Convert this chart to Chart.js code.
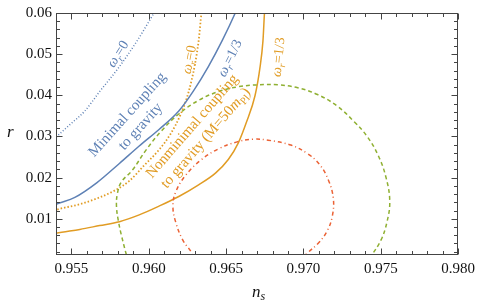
<!DOCTYPE html>
<html>
<head>
<meta charset="utf-8">
<script src="https://cdn.jsdelivr.net/npm/chart.js@4.4.1/dist/chart.umd.min.js"></script>
<style>
  html, body { margin: 0; padding: 0; background: #fff; }
  #wrap { width: 480px; height: 304px; }
</style>
</head>
<body>
<div id="wrap"><canvas id="chart" width="480" height="304"></canvas></div>
<script>
// tick labels
const xTicks = [0.955, 0.960, 0.965, 0.970, 0.975, 0.980];
const yTicks = [0.01, 0.02, 0.03, 0.04, 0.05, 0.06];

// minimal coupling, w_r = 0 (dotted blue)
const minW0_ns = [0.95387, 0.95400, 0.95490, 0.95586, 0.95682, 0.95797, 0.95919, 0.96034, 0.96053];
const minW0_r  = [0.02934, 0.02981, 0.03288, 0.03618, 0.04090, 0.04632, 0.05292, 0.06000, 0.06118];

// minimal coupling, w_r = 1/3 (solid blue)
const minW13_ns = [0.95387, 0.95400, 0.95522, 0.95663, 0.95810, 0.95938, 0.96066, 0.96194, 0.96290, 0.96386, 0.96476, 0.96559, 0.96572];
const minW13_r  = [0.01330, 0.01354, 0.01519, 0.01873, 0.02344, 0.02769, 0.03170, 0.03618, 0.04113, 0.04703, 0.05340, 0.06000, 0.06118];

// nonminimal coupling, w_r = 0 (dotted orange)
const nonW0_ns = [0.95387, 0.95400, 0.95554, 0.95682, 0.95778, 0.95874, 0.95970, 0.96066, 0.96143, 0.96207, 0.96258, 0.96297, 0.96322, 0.96341, 0.96348];
const nonW0_r  = [0.01189, 0.01212, 0.01354, 0.01519, 0.01684, 0.01920, 0.02297, 0.02675, 0.03075, 0.03547, 0.04090, 0.04726, 0.05316, 0.06000, 0.06118];

// nonminimal coupling, w_r = 1/3 (solid orange)
const nonW13_ns = [0.95387, 0.95400, 0.95554, 0.95682, 0.95810, 0.95938, 0.96066, 0.96194, 0.96322, 0.96431, 0.96514, 0.96578, 0.96630, 0.96687, 0.96719, 0.96738, 0.96748, 0.96751];
const nonW13_r  = [0.00634, 0.00646, 0.00741, 0.00835, 0.00929, 0.01094, 0.01307, 0.01542, 0.01825, 0.02108, 0.02439, 0.02840, 0.03335, 0.03995, 0.04679, 0.05316, 0.06000, 0.06118];

// outer contour (dashed green)
const outer_ns = [0.95868, 0.95855, 0.95823, 0.95803, 0.95791, 0.95797, 0.95823, 0.95893, 0.95983, 0.96079, 0.96194, 0.96322, 0.96450, 0.96578, 0.96706, 0.96835, 0.96963, 0.97091, 0.97219, 0.97328, 0.97411, 0.97481, 0.97533, 0.97558, 0.97539, 0.97501, 0.97443, 0.97411];
const outer_r  = [-0.00038, 0.00127, 0.00599, 0.00953, 0.01307, 0.01613, 0.01896, 0.02179, 0.02675, 0.03123, 0.03547, 0.03877, 0.04090, 0.04208, 0.04255, 0.04255, 0.04184, 0.04019, 0.03736, 0.03358, 0.03005, 0.02557, 0.02014, 0.01425, 0.00906, 0.00481, 0.00127, -0.00038];

// inner contour (dash-dot red)
const inner_ns = [0.96297, 0.96277, 0.96220, 0.96175, 0.96156, 0.96175, 0.96239, 0.96341, 0.96450, 0.96566, 0.96674, 0.96771, 0.96918, 0.97027, 0.97104, 0.97161, 0.97193, 0.97187, 0.97155, 0.97097, 0.97027, 0.96982];
const inner_r  = [-0.00038, 0.00175, 0.00481, 0.00906, 0.01307, 0.01660, 0.02061, 0.02439, 0.02698, 0.02863, 0.02934, 0.02910, 0.02792, 0.02580, 0.02321, 0.01943, 0.01495, 0.01071, 0.00717, 0.00410, 0.00175, 0.00010];

const BLUE = '#5e81b5';
const ORANGE = '#e19c24';
const GREEN = '#8fb032';
const RED = '#eb6235';
const FRAME = '#444444';
const SERIF = '"Liberation Serif", "DejaVu Serif", serif';

function pts(xs, ys) {
    return xs.map((x, i) => ({ x: x, y: ys[i] }));
}

// lines run left to right, so monotone keeps them smooth; closed contours use tension
function curve(xs, ys, color, dash, width, mono) {
    return {
        data: pts(xs, ys),
        showLine: true,
        borderColor: color,
        borderWidth: width,
        borderDash: dash,
        pointRadius: 0,
        fill: false,
        tension: 0.4,
        cubicInterpolationMode: mono ? 'monotone' : 'default',
        clip: 0
    };
}

// rotated text labels, placed in data units
const W0 = [{ t: 'ω', it: 1 }, { t: 'r', it: 1, sub: 1 }, { t: '=0' }];
const W13 = [{ t: 'ω', it: 1 }, { t: 'r', it: 1, sub: 1 }, { t: '=1/3' }];
const notes = [
    { ns: 0.95797, r: 0.05010, rot: -58, color: BLUE, size: 14, lines: [W0] },
    { ns: 0.95900, r: 0.03400, rot: -48, color: BLUE, size: 15, lines: [[{ t: 'Minimal coupling' }], [{ t: 'to gravity' }]] },
    { ns: 0.96258, r: 0.04870, rot: -79, color: ORANGE, size: 14, lines: [W0] },
    { ns: 0.96521, r: 0.04910, rot: -64, color: BLUE, size: 14, lines: [W13] },
    { ns: 0.96835, r: 0.04930, rot: -84, color: ORANGE, size: 14, lines: [W13] },
    { ns: 0.96320, r: 0.03120, rot: -49, color: ORANGE, size: 15, lines: [[{ t: 'Nonminimal coupling' }],
        [{ t: 'to gravity (M=50' }, { t: 'm', it: 1 }, { t: 'Pl', sub: 1 }, { t: ')' }]] }
];

function drawRich(ctx, segs, size, y) {
    let w = 0;
    const parts = segs.map(s => {
        const fs = s.sub ? size * 0.7 : size;
        const font = (s.it ? 'italic ' : '') + fs + 'px ' + SERIF;
        ctx.font = font;
        const pw = ctx.measureText(s.t).width;
        w += pw;
        return { t: s.t, font: font, pw: pw, dy: s.sub ? size * 0.25 : 0 };
    });
    let x = -w / 2;
    parts.forEach(p => {
        ctx.font = p.font;
        ctx.fillText(p.t, x, y + p.dy);
        x += p.pw;
    });
}

const framePlugin = {
    id: 'frame',
    afterDatasetsDraw(chart) {
        const ctx = chart.ctx;
        const a = chart.chartArea;
        const xs = chart.scales.x, ys = chart.scales.y;

        // labels
        notes.forEach(n => {
            ctx.save();
            ctx.translate(xs.getPixelForValue(n.ns), ys.getPixelForValue(n.r));
            ctx.rotate(n.rot * Math.PI / 180);
            ctx.fillStyle = n.color;
            ctx.textBaseline = 'alphabetic';
            const lh = n.size * 1.2;
            n.lines.forEach((ln, i) => {
                drawRich(ctx, ln, n.size, (i - (n.lines.length - 1) / 2) * lh + n.size * 0.33);
            });
            ctx.restore();
        });

        // frame with inward ticks on all four sides
        ctx.save();
        ctx.strokeStyle = FRAME;
        ctx.lineWidth = 1;
        const L = Math.round(a.left) + 0.5, R = Math.round(a.right) - 0.5;
        const T = Math.round(a.top) + 0.5, B = Math.round(a.bottom) - 0.5;
        ctx.strokeRect(L, T, R - L, B - T);

        ctx.beginPath();
        for (let v = 954; v <= 980; v++) {
            const len = v % 5 === 0 ? 6 : 3.5;
            const px = Math.round(xs.getPixelForValue(v / 1000)) + 0.5;
            ctx.moveTo(px, B); ctx.lineTo(px, B - len);
            ctx.moveTo(px, T); ctx.lineTo(px, T + len);
        }
        for (let v = 2; v <= 60; v += 2) {
            const len = v % 10 === 0 ? 6 : 3.5;
            const py = Math.round(ys.getPixelForValue(v / 1000)) + 0.5;
            ctx.moveTo(L, py); ctx.lineTo(L + len, py);
            ctx.moveTo(R, py); ctx.lineTo(R - len, py);
        }
        ctx.stroke();

        // axis titles
        ctx.fillStyle = '#111';
        ctx.textBaseline = 'alphabetic';
        ctx.textAlign = 'left';
        ctx.font = 'italic 17px ' + SERIF;
        ctx.fillText('r', 7, 137);
        ctx.fillText('n', 252, 297);
        const nw = ctx.measureText('n').width;
        ctx.font = 'italic 12px ' + SERIF;
        ctx.fillText('s', 252 + nw, 300);
        ctx.restore();
    }
};

new Chart(document.getElementById('chart'), {
    type: 'scatter',
    data: {
        datasets: [
            curve(outer_ns, outer_r, GREEN, [4, 3], 1.5, false),
            curve(inner_ns, inner_r, RED, [4, 3, 1, 3], 1.5, false),
            curve(minW0_ns, minW0_r, BLUE, [1, 2], 1.5, true),
            curve(minW13_ns, minW13_r, BLUE, [], 1.5, true),
            curve(nonW0_ns, nonW0_r, ORANGE, [1.5, 2], 1.8, true),
            curve(nonW13_ns, nonW13_r, ORANGE, [], 1.5, true)
        ]
    },
    options: {
        responsive: false,
        animation: false,
        layout: { padding: { top: 6, right: 18, left: 0, bottom: 0 } },
        plugins: { legend: { display: false }, tooltip: { enabled: false } },
        scales: {
            x: {
                type: 'linear',
                min: 0.954,
                max: 0.980,
                grid: { display: false, drawTicks: false },
                border: { display: false },
                afterBuildTicks: s => { s.ticks = xTicks.map(v => ({ value: v })); },
                afterFit: s => { s.height = 49; },
                ticks: {
                    padding: 5,
                    color: '#111',
                    font: { family: SERIF, size: 15 },
                    maxRotation: 0,
                    callback: v => v.toFixed(3)
                }
            },
            y: {
                type: 'linear',
                min: 0.0012,
                max: 0.06,
                grid: { display: false, drawTicks: false },
                border: { display: false },
                afterBuildTicks: s => { s.ticks = yTicks.map(v => ({ value: v })); },
                afterFit: s => { s.width = 56; },
                ticks: {
                    padding: 4,
                    color: '#111',
                    font: { family: SERIF, size: 15 },
                    callback: v => v.toFixed(2)
                }
            }
        }
    },
    plugins: [framePlugin]
});
</script>
</body>
</html>
